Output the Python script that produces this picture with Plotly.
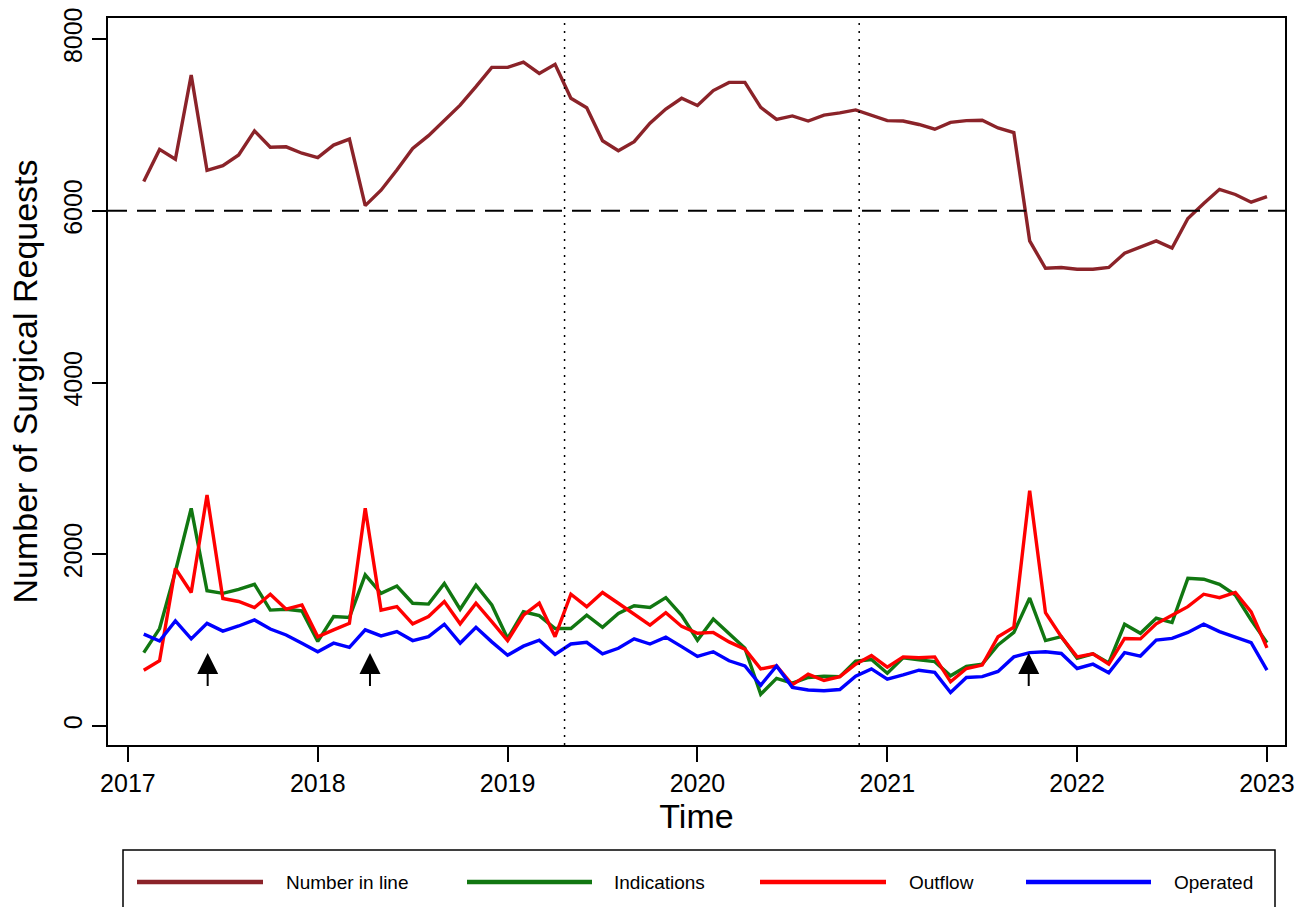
import numpy as np
import plotly.graph_objects as go

# ---------------- data (monthly, Jan 2017 .. Dec 2022) ----------------
start_year = 2017
n_months = 72
time = start_year + np.arange(1, n_months + 1) / 12.0

number_in_line = [
    6340, 6715, 6600, 7580, 6470, 6525, 6650, 6930, 6740, 6745, 6670, 6620,
    6765, 6835, 6060, 6240, 6475, 6725, 6875, 7055, 7230, 7445, 7670, 7670,
    7730, 7600, 7705, 7310, 7200, 6815, 6700, 6805, 7020, 7185, 7310, 7225,
    7400, 7495, 7495, 7205, 7065, 7105, 7045, 7115, 7140, 7175, 7115, 7050,
    7045, 7005, 6950, 7030, 7050, 7055, 6965, 6910, 5650, 5330, 5340, 5320,
    5320, 5340, 5505, 5580, 5650, 5565, 5910, 6085, 6250, 6190, 6100, 6165,
]
indications = [
    855, 1135, 1800, 2535, 1575, 1545, 1590, 1650, 1350, 1360, 1340, 985,
    1275, 1265, 1760, 1545, 1630, 1430, 1420, 1660, 1360, 1640, 1410, 1020,
    1330, 1285, 1135, 1135, 1290, 1150, 1310, 1400, 1380, 1495, 1290, 1000,
    1245, 1080, 905, 370, 555, 500, 565, 580, 575, 755, 775, 615,
    795, 770, 750, 585, 695, 720, 945, 1090, 1490, 995, 1040, 790,
    840, 735, 1185, 1080, 1255, 1205, 1720, 1710, 1650, 1525, 1235, 970,
]
outflow = [
    650, 760, 1835, 1555, 2690, 1485, 1450, 1380, 1535, 1360, 1410, 1040,
    1120, 1195, 2535, 1350, 1390, 1190, 1275, 1450, 1190, 1430, 1215, 995,
    1290, 1430, 1040, 1535, 1390, 1555, 1430, 1300, 1175, 1320, 1160, 1080,
    1090, 980, 895, 665, 700, 480, 605, 530, 575, 720, 820, 685,
    805, 795, 805, 515, 670, 710, 1040, 1150, 2740, 1320, 1040, 805,
    840, 720, 1020, 1015, 1190, 1290, 1390, 1535, 1495, 1555, 1330, 910,
]
operated = [
    1070, 990, 1225, 1015, 1195, 1105, 1165, 1235, 1130, 1060, 965, 865,
    965, 915, 1120, 1050, 1100, 995, 1040, 1185, 965, 1150, 980, 825,
    930, 1000, 835, 955, 975, 840, 905, 1015, 955, 1035, 925, 810,
    865, 760, 700, 475, 700, 450, 420, 410, 425, 580, 665, 545,
    595, 650, 625, 390, 565, 575, 635, 805, 855, 865, 845, 670,
    720, 620, 855, 815, 1000, 1020, 1090, 1185, 1100, 1035, 970, 650,
]

series_names = ["Number in line", "Indications", "Outflow", "Operated"]
series_colors = ["#8B2329", "#117711", "#FF0000", "#0000FF"]

x_ticks = [2017, 2018, 2019, 2020, 2021, 2022, 2023]
y_ticks = [0, 2000, 4000, 6000, 8000]
reference_level = 6000
vertical_markers = [2019.30, 2020.852]
arrow_times = [2017.42, 2018.275, 2021.745]
arrow_tip, arrow_tail = 850, 450

# ---------------- figure ----------------
FONT = "Liberation Sans, Arial, sans-serif"
W, H = 1309, 907
L, R, T, B = 108, 24, 18, 162          # plot area margins (px)
PW, PH = W - L - R, H - T - B


def px(xp):
    return (xp - L) / PW


def py(yp):
    return (H - B - yp) / PH


fig = go.Figure()
for name, vals, col in zip(series_names,
                           [number_in_line, indications, outflow, operated],
                           series_colors):
    fig.add_trace(go.Scatter(x=time, y=vals, mode="lines", name=name,
                             line=dict(color=col, width=3.4),
                             showlegend=False))

shapes = []
# horizontal dashed reference
shapes.append(dict(type="line", xref="paper", yref="y", x0=0, x1=1,
                   y0=reference_level, y1=reference_level,
                   line=dict(color="black", width=2, dash="19px,10px")))
# dotted verticals
for v in vertical_markers:
    shapes.append(dict(type="line", xref="x", yref="paper", x0=v, x1=v,
                       y0=0, y1=1,
                       line=dict(color="black", width=1.5, dash="2px,6px")))

# manual legend (box + long line samples)
shapes.append(dict(type="rect", xref="paper", yref="paper",
                   x0=px(123), x1=px(1275), y0=py(850), y1=py(915),
                   line=dict(color="black", width=1.5), fillcolor="rgba(0,0,0,0)"))
leg_samples = [(137, 263), (467, 592), (760, 886), (1026, 1151)]
leg_text_x = [284, 612, 907, 1172]
leg_y = 882
annotations = []
for (a, b), tx, name, col in zip(leg_samples, leg_text_x, series_names, series_colors):
    shapes.append(dict(type="line", xref="paper", yref="paper",
                       x0=px(a), x1=px(b), y0=py(leg_y), y1=py(leg_y),
                       line=dict(color=col, width=4.5)))
    annotations.append(dict(xref="paper", yref="paper", x=px(tx), y=py(leg_y),
                            text=name, showarrow=False, xanchor="left",
                            yanchor="middle",
                            font=dict(family=FONT, size=19, color="black")))

# arrows
for t in arrow_times:
    annotations.append(dict(x=t, y=arrow_tip, ax=t, ay=arrow_tail,
                            xref="x", yref="y", axref="x", ayref="y",
                            text="", showarrow=True, arrowhead=2,
                            arrowsize=2.1, arrowwidth=2, arrowcolor="black",
                            standoff=0, startstandoff=0))

fig.update_layout(
    width=W, height=H,
    margin=dict(l=L, r=R, t=T, b=B, pad=0, autoexpand=False),
    paper_bgcolor="white", plot_bgcolor="white",
    font=dict(family=FONT, color="black"),
    shapes=shapes, annotations=annotations,
    showlegend=False,
)
fig.update_xaxes(
    range=[2016.895, 2023.095], tickvals=x_ticks,
    ticktext=[str(v) for v in x_ticks], automargin=False,
    showgrid=False, zeroline=False,
    showline=True, mirror=True, linecolor="black", linewidth=2,
    ticks="outside", ticklen=15, tickwidth=1.5, tickcolor="black",
    tickfont=dict(family=FONT, size=25),
    title=dict(text="Time", font=dict(family=FONT, size=34), standoff=2),
)
fig.update_yaxes(
    range=[-221, 8245], tickvals=y_ticks,
    ticktext=[str(v) for v in y_ticks], tickangle=-90, automargin=False,
    showgrid=False, zeroline=False,
    showline=True, mirror=True, linecolor="black", linewidth=2,
    ticks="outside", ticklen=14, tickwidth=1.5, tickcolor="black",
    tickfont=dict(family=FONT, size=25),
    title=dict(text="Number of Surgical Requests",
               font=dict(family=FONT, size=34), standoff=11),
)

fig.write_html(
    "out.html",
    config={"displayModeBar": False},
    post_script="document.body.style.margin='0';"
                "document.body.style.overflow='hidden';",
)
